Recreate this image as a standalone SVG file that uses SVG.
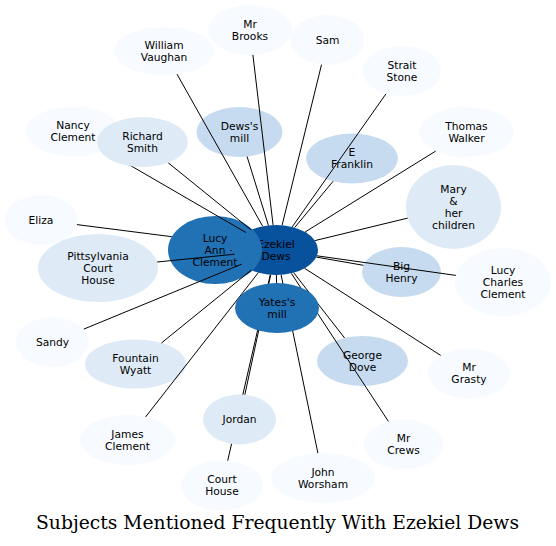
<svg xmlns="http://www.w3.org/2000/svg" width="556" height="546" viewBox="0 0 556 546">
<style>
text{font-family:"DejaVu Sans","Noto Sans",sans-serif;font-size:10.7px;fill:#000;text-anchor:middle}
text.title{font-family:"DejaVu Serif","Liberation Serif",serif;font-size:18px}
.c0{fill:#f7fbff}.c1{fill:#deebf7}.c2{fill:#c6dbef}.c3{fill:#2171b5}.c4{fill:#08519c}
#edges line{stroke:#000;stroke-width:1;fill:none}
</style>
<rect width="556" height="546" fill="#fff"/>
<g id="nodes-back">
<g id="n-ezekiel"><ellipse class="c4" cx="276" cy="250" rx="42" ry="25"/><text x="276" y="247.5">Ezekiel</text><text x="276" y="259.5">Dews</text></g>
<g id="n-lucyann"><ellipse class="c3" cx="215" cy="250" rx="47" ry="34"/><text x="215" y="241.5">Lucy</text><text x="215" y="253.5">Ann</text><text x="215" y="265.5">Clement</text></g>
<g id="n-dewsmill"><ellipse class="c2" cx="239.5" cy="132" rx="43" ry="25"/><text x="239.5" y="129.5">Dews's</text><text x="239.5" y="141.5">mill</text></g>
<g id="n-efranklin"><ellipse class="c2" cx="352" cy="158.5" rx="46" ry="25"/><text x="352" y="156">E</text><text x="352" y="168">Franklin</text></g>
<g id="n-bighenry"><ellipse class="c2" cx="401.5" cy="272" rx="39.5" ry="25"/><text x="401.5" y="269.5">Big</text><text x="401.5" y="281.5">Henry</text></g>
<g id="n-georgedove"><ellipse class="c2" cx="362.5" cy="361" rx="45.5" ry="25"/><text x="362.5" y="358.5">George</text><text x="362.5" y="370.5">Dove</text></g>
<g id="n-mary"><ellipse class="c1" cx="453.5" cy="207" rx="47.5" ry="42"/><text x="453.5" y="192.5">Mary</text><text x="453.5" y="204.5">&amp;</text><text x="453.5" y="216.5">her</text><text x="453.5" y="228.5">children</text></g>
<g id="n-pittsylvania"><ellipse class="c1" cx="98" cy="268" rx="60" ry="34"/><text x="98" y="259.5">Pittsylvania</text><text x="98" y="271.5">Court</text><text x="98" y="283.5">House</text></g>
<g id="n-sandy"><ellipse class="c0" cx="52.5" cy="342" rx="36.5" ry="25"/><text x="52.5" y="345.5">Sandy</text></g>
<g id="n-fountain"><ellipse class="c1" cx="135.5" cy="364" rx="50.5" ry="24.5"/><text x="135.5" y="361.5">Fountain</text><text x="135.5" y="373.5">Wyatt</text></g>
<g id="n-william"><ellipse class="c0" cx="164" cy="51" rx="50" ry="24"/><text x="164" y="48.5">William</text><text x="164" y="60.5">Vaughan</text></g>
<g id="n-brooks"><ellipse class="c0" cx="250" cy="30" rx="42" ry="25"/><text x="250" y="27.5">Mr</text><text x="250" y="39.5">Brooks</text></g>
<g id="n-sam"><ellipse class="c0" cx="327.5" cy="40" rx="37" ry="25"/><text x="327.5" y="43.5">Sam</text></g>
<g id="n-strait"><ellipse class="c0" cx="402" cy="71" rx="39" ry="25"/><text x="402" y="68.5">Strait</text><text x="402" y="80.5">Stone</text></g>
<g id="n-thomas"><ellipse class="c0" cx="466.5" cy="132" rx="47.5" ry="25"/><text x="466.5" y="129.5">Thomas</text><text x="466.5" y="141.5">Walker</text></g>
<g id="n-lucycharles"><ellipse class="c0" cx="503" cy="282" rx="48" ry="34"/><text x="503" y="273.5">Lucy</text><text x="503" y="285.5">Charles</text><text x="503" y="297.5">Clement</text></g>
<g id="n-grasty"><ellipse class="c0" cx="469" cy="373.5" rx="41" ry="25"/><text x="469" y="371">Mr</text><text x="469" y="383">Grasty</text></g>
<g id="n-crews"><ellipse class="c0" cx="403.5" cy="444.5" rx="39.5" ry="25"/><text x="403.5" y="442">Mr</text><text x="403.5" y="454">Crews</text></g>
<g id="n-worsham"><ellipse class="c0" cx="323" cy="478" rx="52" ry="25"/><text x="323" y="475.5">John</text><text x="323" y="487.5">Worsham</text></g>
<g id="n-courthouse"><ellipse class="c0" cx="222" cy="485.5" rx="41" ry="25"/><text x="222" y="483">Court</text><text x="222" y="495">House</text></g>
<g id="n-jamesclement"><ellipse class="c0" cx="127.5" cy="440" rx="47.5" ry="25"/><text x="127.5" y="437.5">James</text><text x="127.5" y="449.5">Clement</text></g>
<g id="n-eliza"><ellipse class="c0" cx="41" cy="220" rx="36.5" ry="25"/><text x="41" y="223.5">Eliza</text></g>
<g id="n-nancy"><ellipse class="c0" cx="73" cy="131.5" rx="47" ry="25"/><text x="73" y="129">Nancy</text><text x="73" y="141">Clement</text></g>
</g>
<g id="edges">
<line x1="262.7" y1="226.3" x2="177" y2="74.2"/>
<line x1="273.1" y1="225.1" x2="252.9" y2="54.9"/>
<line x1="268.4" y1="225.4" x2="247.1" y2="156.6"/>
<line x1="282.1" y1="225.3" x2="321.5" y2="64.7"/>
<line x1="292.2" y1="226.9" x2="386" y2="93.8"/>
<line x1="305.1" y1="232" x2="435.7" y2="151.1"/>
<line x1="294.6" y1="227.6" x2="333.1" y2="181.3"/>
<line x1="314.9" y1="240.6" x2="407.7" y2="218.1"/>
<line x1="316.3" y1="257.1" x2="363.4" y2="265.3"/>
<line x1="316.9" y1="255.8" x2="455.9" y2="275.4"/>
<line x1="304.6" y1="268.3" x2="440.7" y2="355.4"/>
<line x1="293.7" y1="272.7" x2="344.6" y2="338"/>
<line x1="291.3" y1="273.3" x2="388.4" y2="421.4"/>
<line x1="281.1" y1="274.8" x2="317.9" y2="453.1"/>
<line x1="270.7" y1="274.8" x2="244.8" y2="394.8"/>
<line x1="270.3" y1="274.8" x2="227.7" y2="460.7"/>
<line x1="258.3" y1="272.7" x2="145.6" y2="416.9"/>
<line x1="251.2" y1="270.2" x2="161.4" y2="343"/>
<line x1="241.5" y1="264.2" x2="83.8" y2="329.1"/>
<line x1="234.6" y1="254.2" x2="157.1" y2="262"/>
<line x1="171.8" y1="236.7" x2="76.9" y2="224.6"/>
<line x1="245.9" y1="232.5" x2="103.4" y2="149.8"/>
<line x1="251.1" y1="229.9" x2="168.1" y2="162.7"/>
<line x1="276.4" y1="275" x2="276.6" y2="283"/>
<line x1="230.2" y1="250.5" x2="231.8" y2="250.5"/>
</g>
<g id="nodes-front">
<g id="n-richard"><ellipse class="c1" cx="142.5" cy="142" rx="45.5" ry="25"/><text x="142.5" y="139.5">Richard</text><text x="142.5" y="151.5">Smith</text></g>
<g id="n-yates"><ellipse class="c3" cx="277" cy="308" rx="42" ry="25"/><text x="277" y="305.5">Yates's</text><text x="277" y="317.5">mill</text></g>
<g id="n-jordan"><ellipse class="c1" cx="239.5" cy="419.5" rx="36.5" ry="25"/><text x="239.5" y="423">Jordan</text></g>
</g>
<text class="title" x="277.5" y="529" textLength="483" lengthAdjust="spacingAndGlyphs">Subjects Mentioned Frequently With Ezekiel Dews</text>
</svg>
